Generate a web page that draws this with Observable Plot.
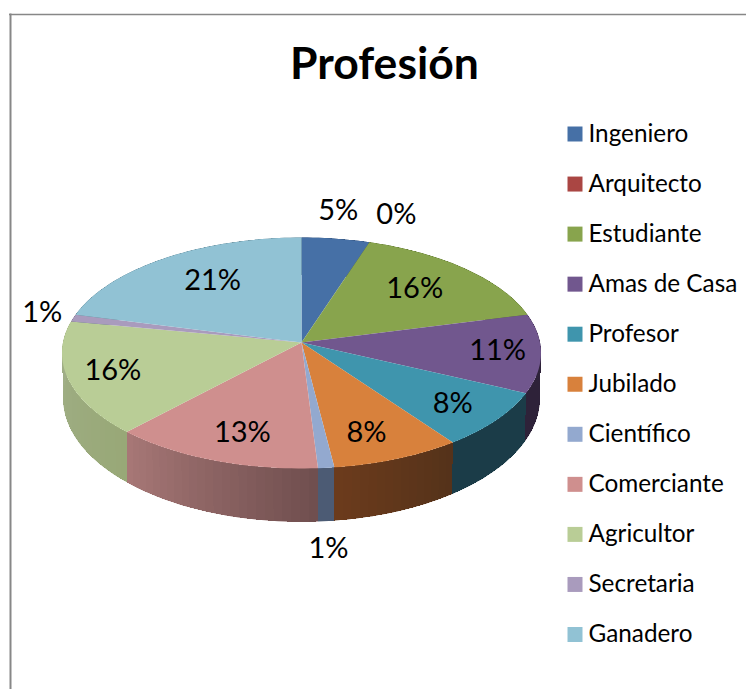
<!DOCTYPE html>
<html><head><meta charset="utf-8">
<script src="https://cdn.jsdelivr.net/npm/d3@7"></script>
<script src="https://cdn.jsdelivr.net/npm/@observablehq/plot@0.6"></script>
<style>html,body{margin:0;padding:0;background:#fff;overflow:hidden}</style>
</head><body><div id="chart"></div>
<script>
const titleText = "Profesión";
const categories = ["Ingeniero","Arquitecto","Estudiante","Amas de Casa","Profesor","Jubilado","Científico","Comerciante","Agricultor","Secretaria","Ganadero"];
const percents = [5,0,16,11,8,8,1,13,16,1,21];
const topColors = ["#4670A6","#AA4643","#88A44D","#71578E","#3F95AD","#D8813C","#93A9CF","#CF8F8E","#B9CD96","#A99BBD","#91C2D4"];
const wallStart = ["#2a4466","#672a28","#53642f","#2e2239","#1b3c48","#54321a","#4c5b74","#6f4e4e","#98a877","#675e73","#587682"];
const wallEnd   = ["#2a4466","#672a28","#53642f","#2e2239","#1b3c48","#6c3b1c","#4c5b74","#a87877","#a2b08a","#675e73","#587682"];
// label placement: radial factor and angular nudge (degrees) around each slice's mid-angle
const labelRadius = [1.30,1.32,0.70,0.82,0.79,0.777,1.55,0.77,0.81,1.145,0.69];
const labelNudge  = [-1.4,1.6,-1.7,-0.5,0.4,2.5,1.8,-2.3,0.8,0.9,3.2];

// pie layout
const cx = 301, cyTop = 342, a = 238.5, b = 114.5, k = 0.0909;
const cyLow = 386.4, aLow = 237.4, bLow = 122.6;
const rad = d => d * Math.PI / 180;
const total = d3.sum(percents);
let acc = 0;
const slices = percents.map((v, i) => {
  const t0 = acc / total * 360; acc += v; const t1 = acc / total * 360;
  return {i, v, t0, t1};
});
const proj = (t, rho = 1, A = a, B = b, cy = cyTop) => {
  const s = rho * Math.sin(rad(t)), c = rho * Math.cos(rad(t)), w = 1 + k * c;
  return [cx + A * s / w, cy - B * c / w];
};
const arcAngles = (t0, t1) => {
  const n = Math.max(2, Math.ceil((t1 - t0) / 1.5));
  return d3.range(n + 1).map(j => t0 + (t1 - t0) * j / n);
};
const topPoly = [], wallBase = [], wallPoly = [];
for (const s of slices) {
  if (s.v === 0) continue;
  topPoly.push({id: s.i, color: topColors[s.i], p: proj(0, 0)});
  for (const t of arcAngles(s.t0, s.t1)) topPoly.push({id: s.i, color: topColors[s.i], p: proj(t)});
  const mix = d3.interpolateRgb(wallStart[s.i], wallEnd[s.i]);
  const baseColor = d3.color(mix(0.5)).formatHex();
  const arc = arcAngles(s.t0, s.t1);
  arc.forEach(t => wallBase.push({id: s.i, color: baseColor, p: proj(t)}));
  arc.slice().reverse().forEach(t => wallBase.push({id: s.i, color: baseColor, p: proj(t, 1, aLow, bLow, cyLow)}));
  const n = Math.max(1, Math.ceil((s.t1 - s.t0) / 2));
  for (let j = 0; j < n; j++) {
    const u0 = s.t0 + (s.t1 - s.t0) * j / n, u1 = s.t0 + (s.t1 - s.t0) * (j + 1) / n;
    const color = d3.color(mix((j + 0.5) / n)).formatHex();
    const id = s.i + "-" + j;
    [proj(u0), proj(u1), proj(u1, 1, aLow, bLow, cyLow), proj(u0, 1, aLow, bLow, cyLow)]
      .forEach(p => wallPoly.push({id, color, p}));
  }
}
const labels = slices.map(s => {
  const p = proj((s.t0 + s.t1) / 2 + labelNudge[s.i], labelRadius[s.i]);
  return {text: s.v + "%", x: p[0], y: p[1]};
});
const legend = categories.map((name, i) => ({name, color: topColors[i], y: 133.5 + i * 50.05}));
const font = "Lato, Carlito, sans-serif";
const polyOpts = {x: d => d.p[0], y: d => d.p[1], z: "id", fill: "color", curve: "linear-closed"};

const chart = Plot.plot({
  width: 746, height: 689,
  margin: 0,
  x: {domain: [0, 746], range: [0, 746], axis: null},
  y: {domain: [0, 689], range: [0, 689], axis: null},
  style: {background: "#fff", fontFamily: font},
  marks: [
    Plot.ruleX([10], {y1: 13.5, y2: 689, stroke: "#878787", strokeWidth: 2}),
    Plot.ruleY([14], {x1: 9, x2: 746, stroke: "#878787", strokeWidth: 1.4}),
    Plot.line(wallBase, {...polyOpts, stroke: "none"}),
    Plot.line(wallPoly, {...polyOpts, stroke: "none", shapeRendering: "crispEdges"}),
    Plot.line(topPoly, {...polyOpts, stroke: "none"}),
    Plot.text(labels, {x: "x", y: "y", text: "text", fontSize: 29, fill: "#000", fontFamily: font}),
    Plot.text([titleText], {x: () => 384, y: () => 64, text: d => d, fontSize: 44.5, fontWeight: 700, fill: "#000", fontFamily: font}),
    Plot.dot(legend, {x: () => 574.5, y: "y", symbol: "square", r: 8.46, fill: "color", stroke: "none"}),
    Plot.text(legend, {x: () => 588, y: "y", text: "name", textAnchor: "start", fontSize: 24.3, fill: "#000", fontFamily: font})
  ]
});
document.getElementById("chart").appendChild(chart);
</script></body></html>
